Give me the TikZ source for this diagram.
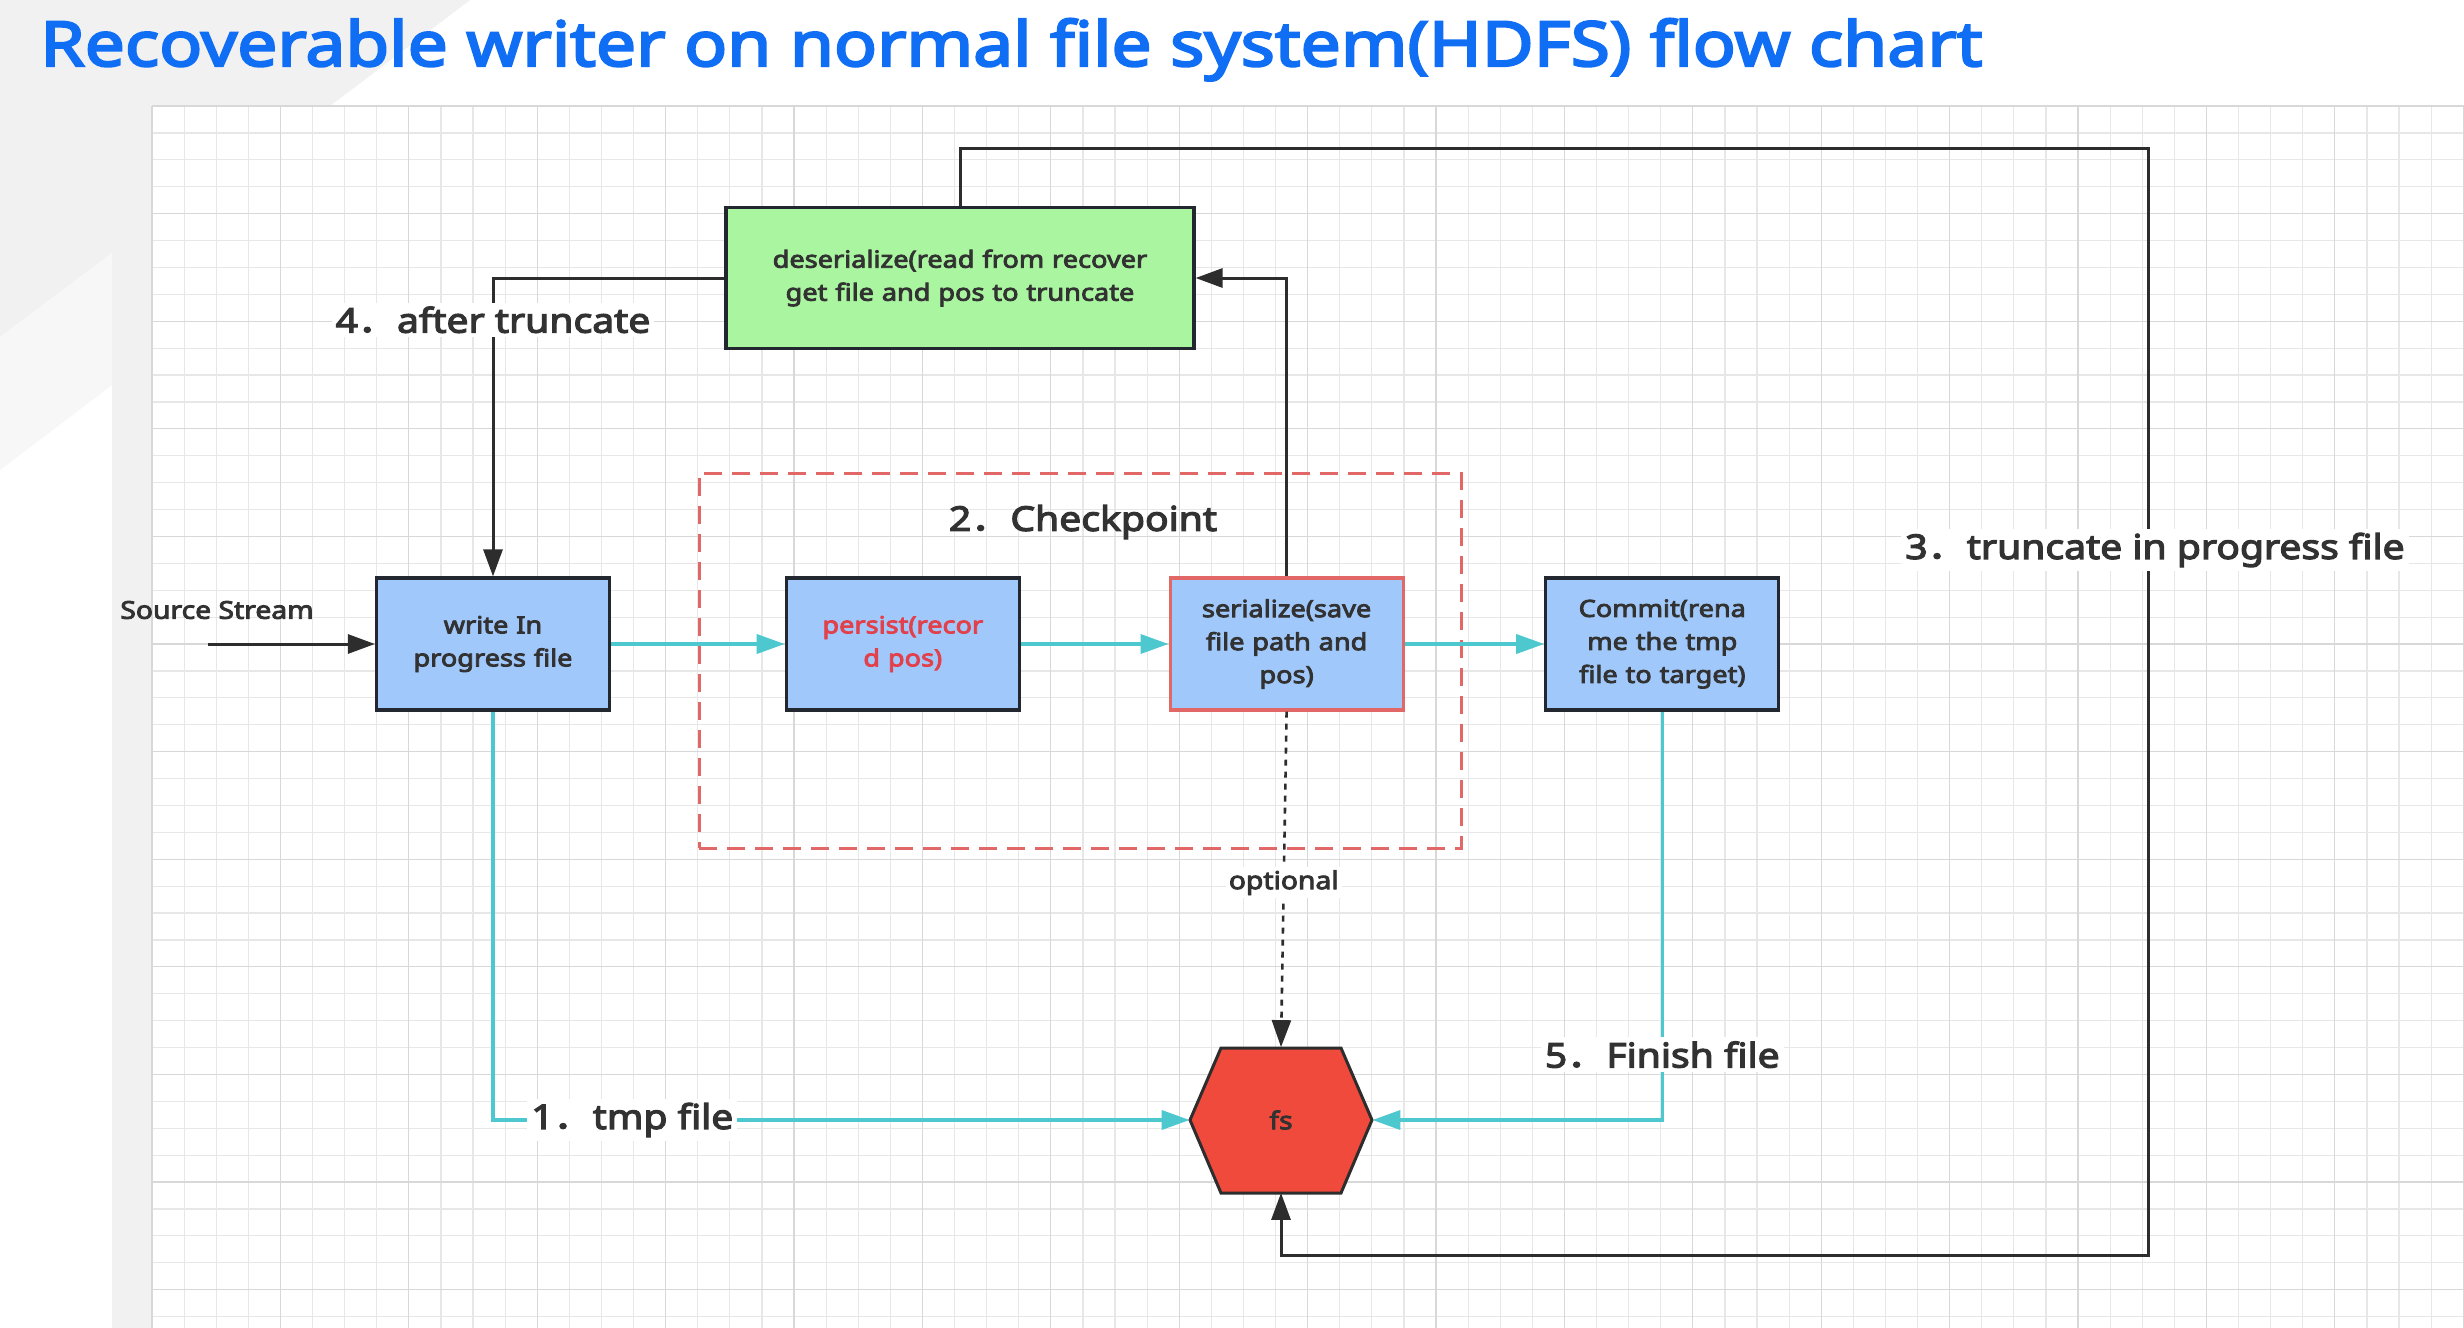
\documentclass[tikz,border=0pt]{standalone}
\usepackage{fontspec}
\setmainfont{Noto Sans}[FakeStretch=1.15, BoldFont={Noto Sans}, BoldFeatures={FakeBold=3.6, FakeStretch=1.15}]
\newfontfamily\cjk{Noto Sans CJK SC}[FakeStretch=1.15, BoldFont={Noto Sans CJK SC}, BoldFeatures={FakeBold=3.6, FakeStretch=1.15}]
\usetikzlibrary{positioning,arrows.meta}

\definecolor{titleblue}{RGB}{16,110,245}
\definecolor{boxblue}{RGB}{160,200,250}
\definecolor{boxline}{RGB}{35,40,48}
\definecolor{deserfill}{RGB}{170,245,160}
\definecolor{hexred}{RGB}{240,74,60}
\definecolor{flowcyan}{RGB}{76,200,206}
\definecolor{dashred}{RGB}{226,104,104}
\definecolor{persistred}{RGB}{226,64,74}
\definecolor{textdark}{RGB}{50,50,50}
\definecolor{lineblack}{RGB}{45,45,45}
\definecolor{gridlight}{RGB}{231,231,231}
\definecolor{griddark}{RGB}{216,216,216}
\definecolor{bggray}{RGB}{241,241,241}
\definecolor{bglight}{RGB}{247,247,247}

\newcommand{\ttlfont}{\bfseries\fontsize{31}{36}\selectfont}
\newcommand{\bxfont}{\bfseries\fontsize{11.8}{16.5}\selectfont}
\newcommand{\stepfont}{\bfseries\fontsize{17}{20}\selectfont}
\newcommand{\srcfont}{\bfseries\fontsize{12.3}{14}\selectfont}
\newcommand{\fdot}{{\cjk ．}}

\begin{document}
\begin{tikzpicture}[
  x=0.5pt, y=-0.5pt,
  boxed/.style={rectangle, draw=boxline, line width=1.6pt, fill=boxblue, minimum width=116.5pt,
    minimum height=66pt, text width=108pt, align=center, inner sep=0pt, font=\bxfont, text=textdark},
  stepnote/.style={fill=white, inner sep=2pt, font=\stepfont, text=textdark},
  smallnote/.style={fill=white, inner sep=1.5pt, font=\srcfont, text=textdark},
  blk/.style={draw=lineblack, line width=1.5pt},
  blkarrow/.style={blk, -{Triangle[length=13.5pt,width=9.5pt]}},
  cyanarrow/.style={draw=flowcyan, line width=1.8pt, -{Triangle[length=14pt,width=9.5pt]}},
  dotline/.style={draw=lineblack, line width=1.3pt, dash pattern=on 3pt off 3pt, -{Triangle[length=13.5pt,width=9.5pt]}},
]
\useasboundingbox (0,0) rectangle (2464,1328);

% background and grid
\fill[white] (0,0) rectangle (2464,1328);
\fill[bggray] (0,0) -- (470,0) -- (330,106) -- (152,106) -- (152,1328) -- (112,1328)
  -- (112,253) -- (0,337) -- cycle;
\fill[bglight] (0,337) -- (112,253) -- (112,385) -- (0,470) -- cycle;
\foreach \i in {0,...,72}
  \draw[gridlight, line width=0.6pt] ({152+32.1*\i},106) -- ({152+32.1*\i},1328);
\foreach \j in {0,...,45}
  \draw[gridlight, line width=0.6pt] (152,{106+26.9*\j}) -- (2464,{106+26.9*\j});
\foreach \i in {0,4,...,72}
  \draw[griddark, line width=0.6pt] ({152+32.1*\i},106) -- ({152+32.1*\i},1328);
\foreach \j in {0,4,...,44}
  \draw[griddark, line width=0.6pt] (152,{106+26.9*\j}) -- (2464,{106+26.9*\j});

\node(title) [anchor=base west, inner sep=0pt, font=\ttlfont, text=titleblue] at (40,66)
  {Recoverable writer on normal file system(HDFS) flow chart};

% checkpoint frame
\node(ckpt) [draw=dashred, line width=1.5pt, dash pattern=on 9pt off 5pt,
  minimum width=381pt, minimum height=187.5pt] at (1080,660.5) {};
\node(ckptlabel) [stepnote, fill=none] at (1083,522) {2\fdot Checkpoint};

% boxes
\node(write) [boxed] at (493,644) {write In\\progress file};
\node(persist) [boxed, right=86.8pt of write, text=persistred] {persist(recor\\d pos)};
\node(ser) [boxed, right=73.8pt of persist, draw=dashred] {serialize(save\\file path and\\pos)};
\node(commit) [boxed, right=69.75pt of ser] {Commit(rena\\me the tmp\\file to target)};
\node(deser) [boxed, fill=deserfill, minimum width=234pt, minimum height=70.5pt, text width=225pt]
  at (960,278) {deserialize(read from recover\\get file and pos to truncate};

% fs hexagon
\filldraw[fill=hexred, draw=lineblack, line width=1.5pt] (1190,1120) -- (1221,1048) -- (1341,1048)
  -- (1372,1120) -- (1341,1193) -- (1221,1193) -- cycle;
\node(fs) [minimum width=91pt, minimum height=72.5pt, inner sep=0pt, font=\srcfont, text=textdark]
  at (1281,1120) {fs};

\coordinate(src) at (208,644);
\coordinate(topR) at (2148,148);
\coordinate(botR) at (2148,1255);

\node(srclabel) [smallnote, fill=none] at (217,610) {Source Stream};
\draw[blkarrow] (src) -- (write.west);

\draw[cyanarrow] (write.east) -- (persist.west);
\draw[cyanarrow] (persist.east) -- (ser.west);
\draw[cyanarrow] (ser.east) -- (commit.west);

\draw[blkarrow] (deser.west) -| node[stepnote, pos=0.57]{4\fdot after truncate} (write.north);
\draw[blkarrow] (ser.north) |- (deser.east);
\draw[blkarrow] (deser.north) |- (topR) -- (botR) -| (fs.south);
\node(note3) [stepnote] at (2155,550) {3\fdot truncate in progress file};

\draw[dotline] (ser.south) -- node[smallnote, pos=0.51]{optional} (fs.north);

\draw[cyanarrow] (write.south) |- node[stepnote, pos=0.6]{1\fdot tmp file} (fs.west);
\draw[cyanarrow] (commit.south) |- node[stepnote, pos=0.42]{5\fdot Finish file} (fs.east);

\end{tikzpicture}
\end{document}
